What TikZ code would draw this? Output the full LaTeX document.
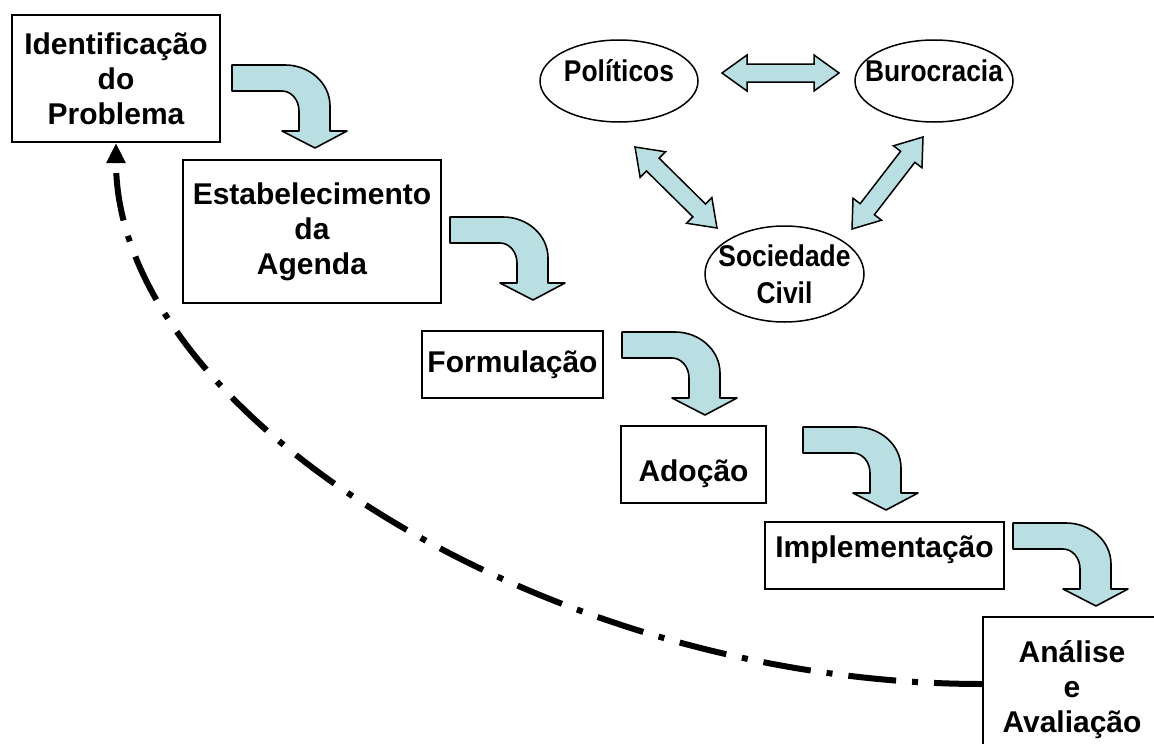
\documentclass[tikz,border=0pt]{standalone}
\usepackage{fontspec}
\setmainfont{Liberation Sans}
\newfontfamily\ovalfamily{Liberation Sans}[FakeStretch=0.88]
\usetikzlibrary{calc, positioning, arrows.meta, shapes.geometric}
\definecolor{flowblue}{RGB}{185,223,226}

% fat two-headed arrow between two tip coordinates
\newcommand{\twoway}[2]{%
  \draw[swapfill] (#1) -- ($(#1)!25pt!(#2)!18pt!90:(#2)$) -- ($(#1)!25pt!(#2)!9pt!90:(#2)$)
    -- ($(#2)!25pt!(#1)!9pt!270:(#1)$) -- ($(#2)!25pt!(#1)!18pt!270:(#1)$) -- (#2)
    -- ($(#2)!25pt!(#1)!18pt!90:(#1)$) -- ($(#2)!25pt!(#1)!9pt!90:(#1)$)
    -- ($(#1)!25pt!(#2)!9pt!270:(#2)$) -- ($(#1)!25pt!(#2)!18pt!270:(#2)$) -- cycle;}

\begin{document}
\begin{tikzpicture}[x=1pt, y=-1pt, >=Stealth, every node/.style={font=\bfseries\fontsize{30}{35}\selectfont}]
  \tikzset{stage/.style={draw, line width=2pt, inner sep=0pt, align=center},
    actor/.style={ellipse, draw, line width=1.5pt, inner xsep=-16pt, inner ysep=0pt, align=center,
      font=\ovalfamily\bfseries\fontsize{30}{37}\selectfont},
    turnfill/.style={draw, line width=1.6pt, fill=flowblue, line join=round},
    swapfill/.style={draw, line width=1.5pt, fill=flowblue},
    feedback/.style={line width=6pt, dash pattern=on 48pt off 16pt on 6pt off 16pt, -{Triangle[length=20pt, width=18pt]}},
    bend arrow/.pic={\draw[turnfill] (0,0) -- (53,0) arc[start angle=-90, end angle=0, x radius=45, y radius=41]
      -- (98,66) -- (115,66) -- (83,83) -- (50,66) -- (67,66) -- (67,46)
      arc[start angle=0, end angle=-90, x radius=17, y radius=20] -- (0,26) -- cycle;}}
  \useasboundingbox (0,0) rectangle (1154,744);
  \clip (0,0) rectangle (1154,744);

  \node[stage, minimum width=208pt, minimum height=127pt] (prob) at (116,78.5) {Identificação\\do\\Problema};
  \node[stage, minimum width=258pt, minimum height=143pt] (agenda) at (312,231.5) {Estabelecimento\\da\\Agenda};
  \node[stage, minimum width=181pt, minimum height=67pt] (form) at (512.5,364.5) {Formulação};
  \node[stage, minimum width=145pt, minimum height=77pt, text height=40pt, text depth=7pt] (adoc) at (693.5,464.5) {Adoção};
  \node[stage, minimum width=239pt, minimum height=67pt, text height=24pt, text depth=20pt] (impl) at (884.5,555.5) {Implementação};
  \node[stage, minimum width=178pt, minimum height=146pt] (aval) at (1072,690) {Análise\\e\\Avaliação};

  \pic at (232,65) {bend arrow};
  \pic at (450,217) {bend arrow};
  \pic at (622,332) {bend arrow};
  \pic at (803,427) {bend arrow};
  \pic at (1013,523) {bend arrow};

  \node[actor, minimum width=158pt, minimum height=82pt, text height=24pt, text depth=24pt] (pol) at (619,81) {Políticos};
  \node[actor, minimum width=158pt, minimum height=82pt, text height=24pt, text depth=24pt] (buro) at (934,81) {Burocracia};
  \node[actor, minimum width=159pt, minimum height=96pt] (soc) at (784.5,274) {Sociedade\\Civil};

  \coordinate (p2b) at (722,73);
  \coordinate (b2p) at (839,73);
  \coordinate (p2s) at (635,147);
  \coordinate (s2p) at (717,228);
  \coordinate (b2s) at (923,137);
  \coordinate (s2b) at (852,229);
  \twoway{p2b}{b2p}
  \twoway{p2s}{s2p}
  \twoway{b2s}{s2b}

  \draw[feedback] ([yshift=6pt]aval.west) .. controls +(-435,0) and +(0,271) .. (prob.south);
\end{tikzpicture}
\end{document}
